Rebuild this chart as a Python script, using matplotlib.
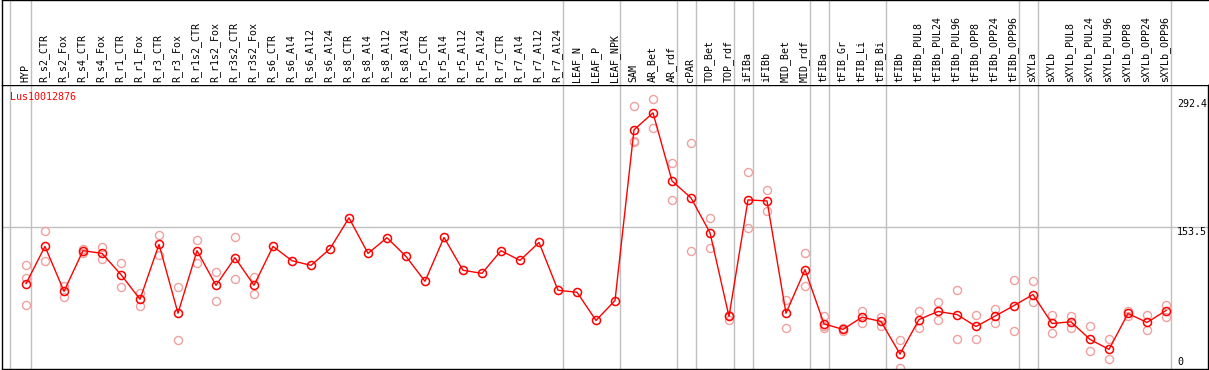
import matplotlib
matplotlib.use("Agg")
import matplotlib.pyplot as plt
import numpy as np

# sample columns, in plotting order
samples = ["HYP", "R_s2_CTR", "R_s2_Fox", "R_s4_CTR", "R_s4_Fox", "R_r1_CTR", "R_r1_Fox",
           "R_r3_CTR", "R_r3_Fox", "R_r1s2_CTR", "R_r1s2_Fox", "R_r3s2_CTR", "R_r3s2_Fox",
           "R_s6_CTR", "R_s6_Al4", "R_s6_Al12", "R_s6_Al24", "R_s8_CTR", "R_s8_Al4",
           "R_s8_Al12", "R_s8_Al24", "R_r5_CTR", "R_r5_Al4", "R_r5_Al12", "R_r5_Al24",
           "R_r7_CTR", "R_r7_Al4", "R_r7_Al12", "R_r7_Al24", "LEAF_N", "LEAF_P", "LEAF_NPK",
           "SAM", "AR_Bet", "AR_rdf", "cPAR", "TOP_Bet", "TOP_rdf", "iFIBa", "iFIBb",
           "MID_Bet", "MID_rdf", "tFIBa", "tFIB_Gr", "tFIB_Li", "tFIB_Bi", "tFIBb",
           "tFIBb_PUL8", "tFIBb_PUL24", "tFIBb_PUL96", "tFIBb_OPP8", "tFIBb_OPP24",
           "tFIBb_OPP96", "sXYLa", "sXYLb", "sXYLb_PUL8", "sXYLb_PUL24", "sXYLb_PUL96",
           "sXYLb_OPP8", "sXYLb_OPP24", "sXYLb_OPP96"]

# number of columns in each experiment group (grey separators between them)
group_sizes = [1, 28, 3, 3, 1, 2, 1, 3, 1, 3, 7, 1, 7]

gene = "Lus10012876"

# mean expression per sample
means = [92.3, 132.5, 84.0, 127.9, 125.0, 102.0, 75.4, 134.7, 60.3, 127.9, 90.5, 120.3, 90.5,
         132.5, 117.1, 112.0, 130.0, 163.4, 125.0, 141.9, 121.7, 94.8, 142.2, 106.7, 103.4,
         127.9, 117.4, 136.8, 85.1, 83.0, 52.5, 74.0,
         258.6, 276.9, 203.3, 185.0, 147.3, 56.8, 182.8, 181.7, 60.3, 107.4,
         48.8, 42.8, 56.0, 51.4, 16.2, 53.5, 62.2, 58.9, 46.0, 57.1, 68.6,
         80.5, 49.2, 51.0, 32.0, 21.2, 60.0, 50.3, 63.2]

# individual replicates (empty where only one value exists)
replicates = [
    [112.0, 98.0, 69.7], [148.7, 117.1], [89.7, 78.3], [129.6, 125.3], [131.4, 118.5],
    [114.9, 89.1], [82.2, 68.2], [145.4, 123.1], [89.1, 30.9], [139.7, 114.9],
    [105.3, 74.0], [143.0, 97.7], [99.9, 81.6],
    [], [], [], [], [], [], [], [], [], [], [], [], [], [], [], [], [], [], [],
    [284.1, 246.4, 245.3], [292.4, 260.4], [222.7, 183.1], [244.5, 127.1], [163.7, 131.1],
    [58.2, 53.5], [213.3, 152.7], [193.6, 171.0], [75.1, 43.8], [125.7, 90.2],
    [57.1, 44.5, 46.0], [44.0, 41.5], [62.5, 49.9], [56.0, 46.6], [30.9, 1.1],
    [63.2, 43.8], [72.9, 52.5], [85.9, 32.0], [58.5, 32.0], [64.6, 49.9], [96.6, 40.6],
    [95.6, 72.9], [57.9, 39.1], [57.1, 44.5], [46.0, 19.1], [32.0, 10.4], [63.2, 56.8],
    [58.5, 41.7], [69.7, 56.0],
]

W, H = 1209, 370
GRID = "#c0c0c0"
REP = "#f0a0a0"
FONT = dict(family="DejaVu Sans Mono", size=7.2)


def px_box(x0, y0, x1, y1):
    return [x0 / W, 1 - y1 / H, (x1 - x0) / W, (y1 - y0) / H]


fig = plt.figure(figsize=(W / 100, H / 100), dpi=100)
ax = fig.add_axes(px_box(2, 85, 1208, 369))
lab = fig.add_axes(px_box(2, 0, 1208, 85), sharex=ax)

x = np.arange(len(samples))
top_val = max(max(r) for r in replicates if r)
ymax = top_val * 1.05

# replicates
for i, reps in enumerate(replicates):
    if reps:
        ax.plot([i] * len(reps), reps, linestyle="none", marker="o", ms=5.8,
                mfc="none", mec=REP, mew=1.0, zorder=2)

# mean profile
ax.plot(x, means, color="red", lw=1, marker="o", ms=5.8, mfc="none", mec="red",
        mew=1.1, zorder=3)

# group separators, also running through the label strip
bounds = np.concatenate([[-0.84], np.cumsum(group_sizes) - 0.76])
for b in bounds:
    ax.axvline(b, color=GRID, lw=1, zorder=0)
    lab.axvline(b, color=GRID, lw=1, zorder=0)
ax.axhline(ymax / 2, color=GRID, lw=1, zorder=0)

ax.set_xlim((2 - 26) / 19, (1208 - 26) / 19)
ax.set_ylim(0, ymax)
lab.set_ylim(0, 1)

for a in (ax, lab):
    a.set_xticks([])
    a.set_yticks([])
    for s in a.spines.values():
        s.set_color("black")
        s.set_linewidth(1)
lab.spines["right"].set_visible(False)
lab.spines["bottom"].set_visible(False)

for i, name in enumerate(samples):
    lab.text(i - 0.05, 0.03, name, rotation=90, ha="center", va="bottom", **FONT)

ax.text(8 / 1206, 1 - 12 / 284, gene, color="red", ha="left", va="center",
        transform=ax.transAxes, **FONT)

# value labels on the right
tx = (1177 - 2) / 1206
trans = ax.get_yaxis_transform()
ax.text(tx, top_val, f"{top_val:.1f}", ha="left", va="top", transform=trans, **FONT)
ax.text(tx, ymax / 2, f"{ymax / 2:.1f}", ha="left", va="top", transform=trans, **FONT)
ax.text(tx, 2, "0", ha="left", va="bottom", transform=trans, **FONT)

fig.savefig("out.png", dpi=100)
